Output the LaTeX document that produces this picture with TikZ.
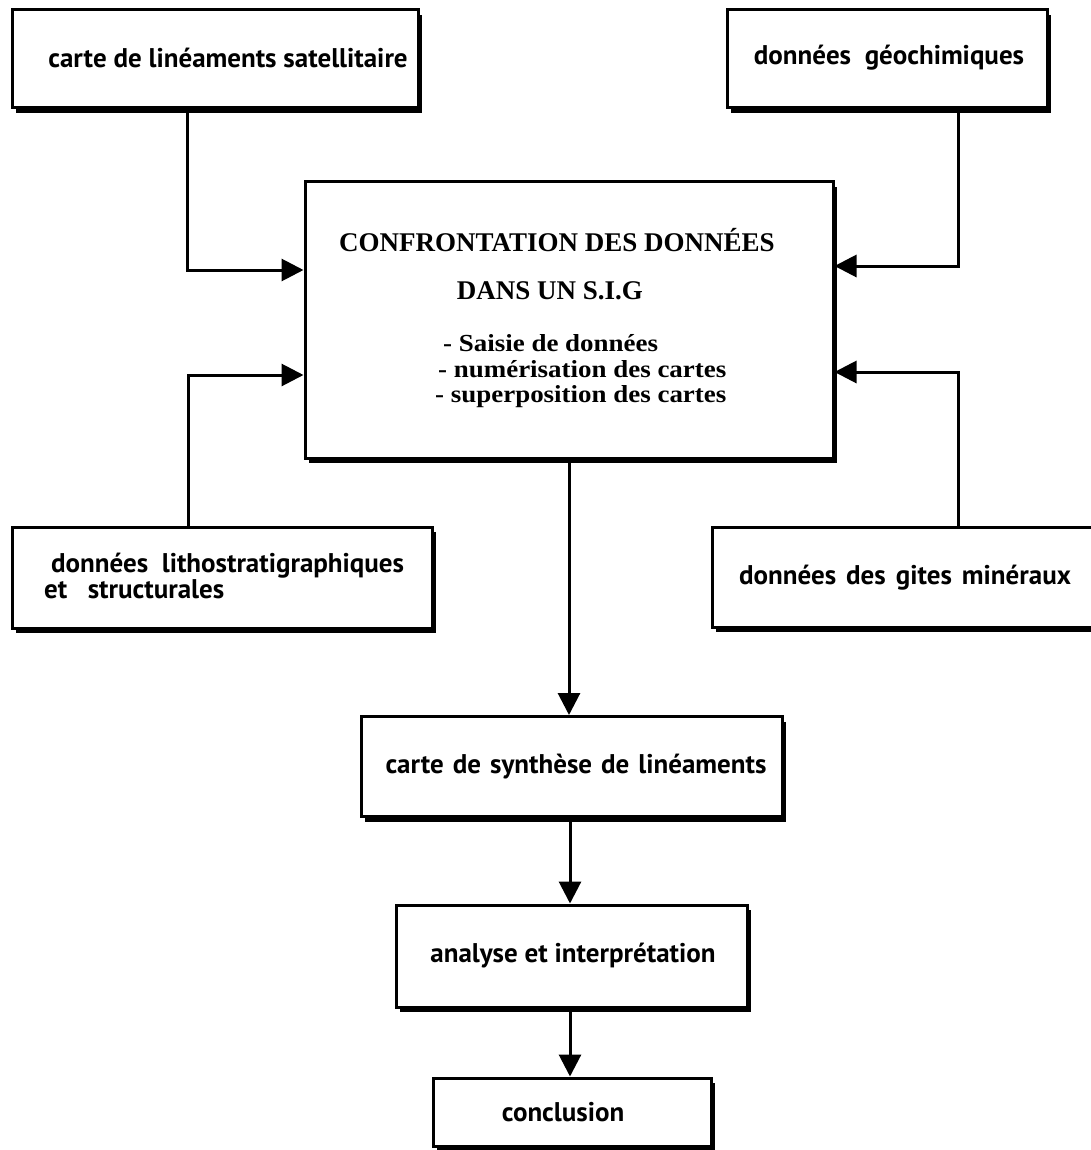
\documentclass[tikz,border=0pt]{standalone}
\usepackage{fontspec}
\setmainfont{Liberation Serif}
\newfontfamily\lblfont{PT Sans}
\newfontfamily\condfont{Liberation Serif}[FakeStretch=1.1]
\usetikzlibrary{arrows.meta,shadows}
\tikzset{
  box/.style={draw=black, line width=3pt, fill=white, rectangle, inner sep=0pt,
    drop shadow={shadow xshift=4pt, shadow yshift=-5pt, fill=black, opacity=1}},
  lbl/.style={font=\lblfont\bfseries\fontsize{27}{26}\selectfont, inner sep=0pt},
  ctxt/.style={font=\bfseries\fontsize{27}{30}\selectfont, inner sep=0pt},
  ltxt/.style={font=\condfont\bfseries\fontsize{24.5}{26}\selectfont, inner sep=0pt, anchor=base west},
  conn/.style={line width=3pt, -{Triangle[length=22pt,width=22pt]}},
}
\begin{document}
\begin{tikzpicture}[x=1pt,y=-1pt]
\useasboundingbox (0,0) rectangle (1090,1150);
% boxes
\node[box, minimum width=406pt, minimum height=98pt] (b1) at (215,59) {};
\node[box, minimum width=320pt, minimum height=98pt] (b2) at (887,59) {};
\node[box, minimum width=528pt, minimum height=276pt] (c) at (569,320) {};
\node[box, minimum width=420pt, minimum height=101pt] (b3) at (222,577.5) {};
\node[box, minimum width=400pt, minimum height=100pt] (b4) at (912,577) {};
\node[box, minimum width=421pt, minimum height=100pt] (b5) at (571.5,766.5) {};
\node[box, minimum width=351pt, minimum height=102pt] (b6) at (571.5,956) {};
\node[box, minimum width=278pt, minimum height=68pt] (b7) at (572,1112) {};
% texts
\node[lbl] (t1) at (228,58) {carte de linéaments satellitaire};
\node[lbl] (t2) at (889,58) {données\ \ géochimiques};
\node[lbl, anchor=west, align=left] (t3) at (44,576) {\ données\ \ lithostratigraphiques\\et\ \ \ structurales};
\node[lbl] (t4) at (905,578) {données\hspace{10pt}des\hspace{10pt}gites\hspace{10pt}minéraux};
\node[lbl] (t5) at (576,767) {carte\hspace{9pt}de\hspace{9pt}synthèse\hspace{9pt}de\hspace{9pt}linéaments};
\node[lbl] (t6) at (573,956) {analyse et interprétation};
\node[lbl] (t7) at (563,1112) {conclusion};
\node[ctxt] (c1) at (557,240) {CONFRONTATION DES DONNÉES};
\node[ctxt] (c2) at (550,291) {DANS UN S.I.G};
\node[ltxt] (c3) at (443,351) {- Saisie de données};
\node[ltxt] (c4) at (438,377) {- numérisation des cartes};
\node[ltxt] (c5) at (435,402) {- superposition des cartes};
% connectors
\coordinate (cL1) at (c.west |- 0,270);
\coordinate (cL2) at (c.west |- 0,375);
\coordinate (cR1) at (c.east |- 0,266);
\coordinate (cR2) at (c.east |- 0,372);
\draw[conn] (b1.south -| 187,0) |- (cL1);
\draw[conn] (b3.north -| 188,0) |- (cL2);
\draw[conn] (b2.south -| 958,0) |- (cR1);
\draw[conn] (b4.north -| 958,0) |- (cR2);
\draw[conn] (c.south -| 569,0) -- (b5.north -| 569,0);
\draw[conn] (b5.south -| 570,0) -- (b6.north -| 570,0);
\draw[conn] (b6.south -| 570,0) -- (b7.north -| 570,0);
\end{tikzpicture}
\end{document}
